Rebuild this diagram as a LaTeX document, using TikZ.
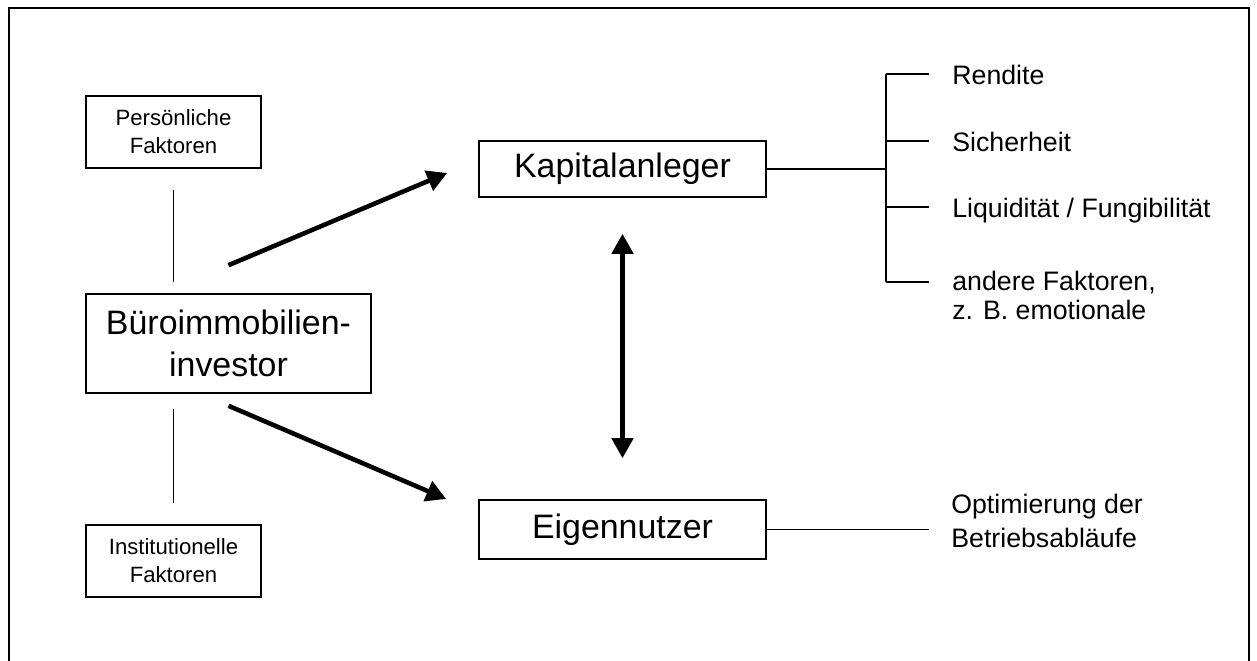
\documentclass[tikz,border=0pt]{standalone}
\usepackage{fontspec}
\setmainfont{Liberation Sans}
\usetikzlibrary{positioning,arrows.meta}

\begin{document}
\begin{tikzpicture}[
        box/.style={draw, line width=0.9pt, align=center, inner sep=0pt},
        thin/.style={line width=0.9pt},
        fat/.style={line width=2.6pt, >={Triangle[length=0.4cm,width=0.42cm]}},
        big/.style={font=\fontsize{19.3}{24}\selectfont},
        small/.style={font=\fontsize{12.6}{16}\selectfont},
        item/.style={inner sep=0pt, align=left, font=\fontsize{15.2}{16.5}\selectfont}
    ]
        \useasboundingbox (0,0) rectangle (25.14,13.22);
        % frame
        \draw[thin] (0.18,-1) -- (0.18,13.06) -- (24.98,13.06) -- (24.98,-1);

        % left column
        \node[box, small, minimum width=3.5cm, minimum height=1.44cm] (pers) at (3.47,10.58) {Persönliche\\Faktoren};
        \node[box, big, minimum width=5.7cm, minimum height=1.98cm] (inv) at (4.57,6.35) {Büroimmobilien-\\investor};
        \node[box, small, minimum width=3.5cm, minimum height=1.44cm] (inst) at (3.47,2.0) {Institutionelle\\Faktoren};
        \draw[thin, shorten <=0.42cm, shorten >=0.22cm]
            (pers.south) -- (pers.south |- inv.north);
        \draw[thin, shorten <=0.3cm, shorten >=0.42cm]
            (pers.south |- inv.south) -- (inst.north);

        % investor types
        \node[box, big, minimum width=5.74cm, minimum height=1.12cm] (kap) at (12.45,9.84) {Kapitalanleger};
        \node[box, big, minimum width=5.74cm, minimum height=1.18cm] (eig) at (12.45,2.63) {Eigennutzer};
        \coordinate (up1) at ([yshift=0.56cm]inv.north);
        \coordinate (up2) at ([xshift=-0.62cm,yshift=-0.08cm]kap.west);
        \coordinate (dn1) at ([yshift=-0.24cm]inv.south);
        \coordinate (dn2) at ([xshift=-0.64cm,yshift=0.61cm]eig.west);
        \draw[fat, ->] (up1) -- (up2);
        \draw[fat, ->] (dn1) -- (dn2);
        \draw[fat, <->, shorten <=0.72cm, shorten >=0.82cm] (kap.south) -- (eig.north);

        % goals of the Kapitalanleger
        \coordinate (k1) at (17.72,11.74);
        \coordinate (k2) at (17.72,10.40);
        \coordinate (k3) at (17.72,9.08);
        \coordinate (k4) at (17.72,7.58);
        \node[item, anchor=base west] (rendite) at ([xshift=1.32cm,yshift=-0.22cm]k1) {Rendite};
        \node[item, anchor=base west] (sicher) at ([xshift=1.32cm,yshift=-0.22cm]k2) {Sicherheit};
        \node[item, anchor=base west] (liqui) at ([xshift=1.32cm,yshift=-0.22cm]k3) {Liquidität / Fungibilität};
        \node[item, anchor=north west] (andere) at ([xshift=1.32cm,yshift=0.22cm]k4) {andere Faktoren,\\z. B. emotionale};
        \draw[thin] (kap.east) -- (kap.east -| k1);
        \draw[thin] (k1) -- (k4);
        \draw[thin] (k1) -- ++(0.86,0);
        \draw[thin] (k2) -- ++(0.86,0);
        \draw[thin] (k3) -- ++(0.86,0);
        \draw[thin] (k4) -- ++(0.86,0);

        % goal of the Eigennutzer
        \node[item, anchor=north west, font=\fontsize{15.2}{19}\selectfont] (opt) at (19.02,3.34) {Optimierung der\\Betriebsabläufe};
        \draw[thin, shorten >=0.44cm] (eig.east) -- (eig.east -| opt.west);
    \end{tikzpicture}
\end{document}
